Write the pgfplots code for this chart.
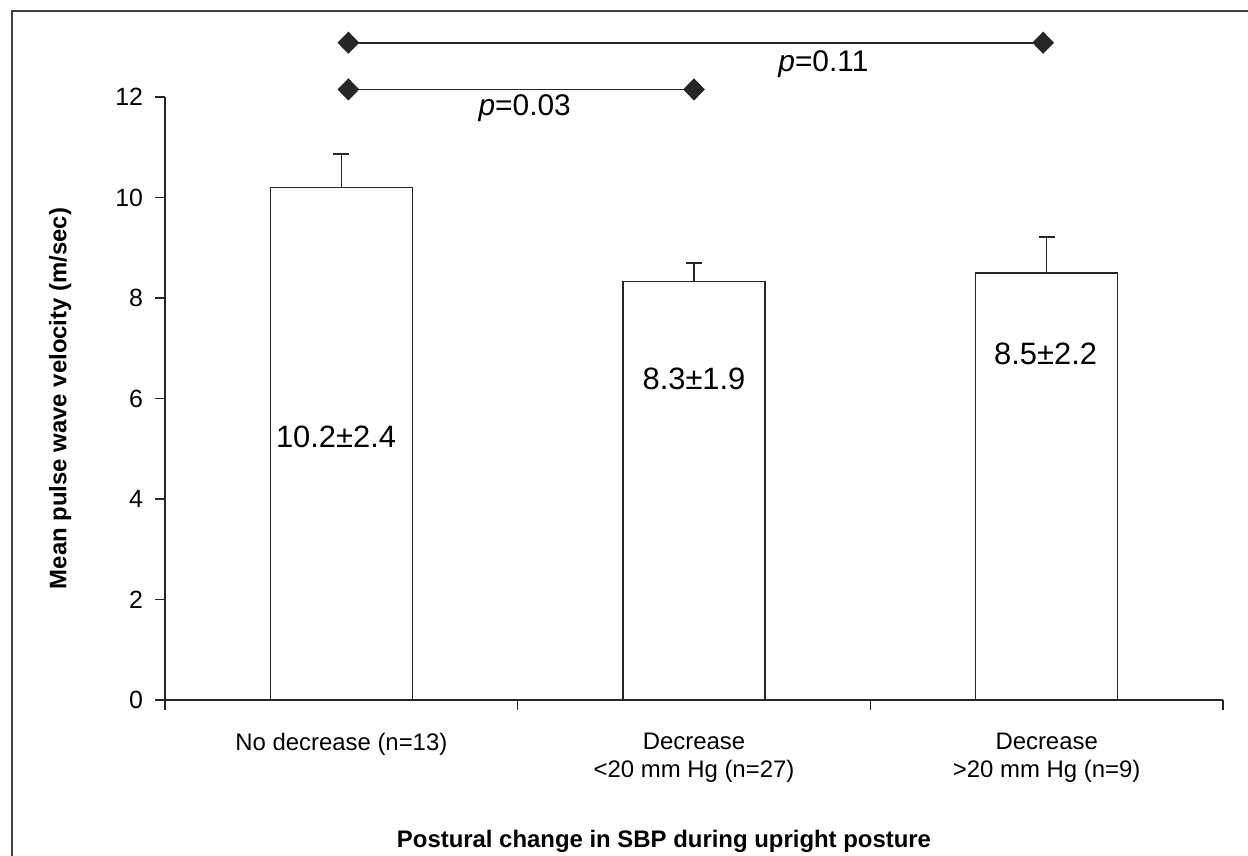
\documentclass[border=0pt]{standalone}
\usepackage{fontspec}
\setmainfont{Liberation Sans}
\usepackage{pgfplots}
\pgfplotsset{compat=1.18}

% mean and SEM (upward error bar) per group
\pgfplotstableread{
x  y     err
0  10.2  0.67
1  8.33  0.37
2  8.5   0.71
}\pwvdata

\begin{document}
\begin{tikzpicture}
\useasboundingbox (0,0) rectangle (624bp,428bp);
% cropped outer frame (left and top edges only)
\draw[line width=0.8pt, black!75] (6bp,0) -- (6bp,422.5bp) -- (624bp,422.5bp);

\begin{axis}[
    at={(82.5bp,78bp)}, anchor=south west,
    scale only axis,
    width=529bp, height=301.5bp,
    xmin=-0.5, xmax=2.5,
    ymin=0, ymax=12,
    clip=false,
    axis x line*=bottom,
    axis y line*=left,
    axis line style={line width=0.75pt, black!85},
    xtick={-0.5,0.5,1.5,2.5},
    xticklabels={},
    ytick={0,2,...,12},
    tick align=outside,
    major tick length=5bp,
    tick style={line width=0.75pt, black!85},
    yticklabel style={font=\fontsize{12.5}{14}\selectfont, xshift=-2.5bp},
    /pgf/number format/assume math mode=true,
    extra x ticks={0,1,2},
    extra x tick labels={No decrease (n=13), Decrease\\<20 mm Hg (n=27), Decrease\\>20 mm Hg (n=9)},
    extra x tick style={
        major tick length=0pt,
        tick label style={font=\fontsize{12}{14}\selectfont, align=center, anchor=north, yshift=-13bp}
    },
    xlabel={\bfseries Postural change in SBP during upright posture},
    xlabel style={font=\fontsize{12}{14}\selectfont, at={(axis description cs:0.4716,-0.234)}, anchor=center},
    ylabel={\bfseries Mean pulse wave velocity (m/sec)},
    ylabel style={font=\fontsize{12}{14}\selectfont, at={(axis description cs:-0.099,0.5)}, anchor=center},
]
\addplot[ybar, bar width=71bp, draw=black!85, fill=white, line width=0.75pt,
    error bars/.cd, y dir=plus, y explicit, error mark=-,
    error mark options={rotate=90, line width=0.75pt, mark size=4bp, black!85},
    error bar style={line width=0.75pt, black!85}]
    table[x=x, y=y, y error=err] {\pwvdata};

% significance brackets
\addplot[black!85, line width=0.8pt, mark=diamond*, mark size=5bp, mark options={xscale=1.3, fill=black!85}]
    coordinates {(0.02,12.15) (1.0,12.15)};
\addplot[black!85, line width=0.8pt, mark=diamond*, mark size=5bp, mark options={xscale=1.3, fill=black!85}]
    coordinates {(0.02,13.08) (1.99,13.08)};

\node[font=\fontsize{15}{17}\selectfont] at (axis cs:0.52,11.77) {\textit{p}=0.03};
\node[font=\fontsize{15}{17}\selectfont] at (axis cs:1.367,12.66) {\textit{p}=0.11};

\node[font=\fontsize{15.5}{17}\selectfont] at (axis cs:-0.015,5.23) {10.2±2.4};
\node[font=\fontsize{15.5}{17}\selectfont] at (axis cs:1.0,6.4) {8.3±1.9};
\node[font=\fontsize{15.5}{17}\selectfont] at (axis cs:1.997,6.89) {8.5±2.2};
\end{axis}
\end{tikzpicture}
\end{document}
